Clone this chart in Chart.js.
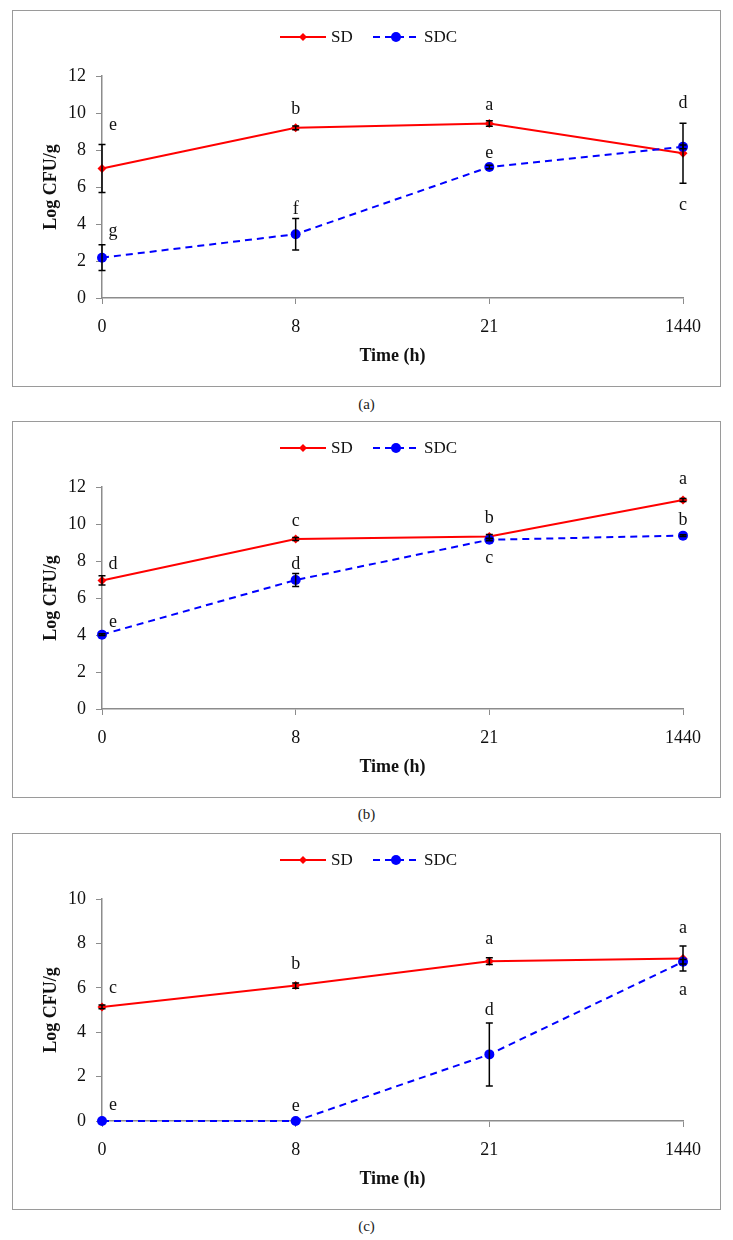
<!DOCTYPE html>
<html>
<head>
<meta charset="utf-8">
<script src="https://cdn.jsdelivr.net/npm/chart.js@4"></script>
<style>
  body { margin: 0; background: #fff; width: 733px; height: 1240px; position: relative; font-family: "Liberation Serif", serif; }
  .box { position: absolute; left: 12px; width: 707px; height: 375px; border: 1px solid #9a9a9a; }
  .box canvas { position: absolute; left: 0; top: 0; }
  .cap { position: absolute; left: 0; width: 733px; text-align: center; font-size: 15px; color: #222; line-height: 16px; }
</style>
</head>
<body>
<div class="box" style="top:10px"><canvas id="chartA" width="707" height="375"></canvas></div>
<div class="cap" style="top:396px">(a)</div>
<div class="box" style="top:421px"><canvas id="chartB" width="707" height="375"></canvas></div>
<div class="cap" style="top:806px">(b)</div>
<div class="box" style="top:833px"><canvas id="chartC" width="707" height="375"></canvas></div>
<div class="cap" style="top:1218px">(c)</div>

<script>
// Tempo de amostragem (categorias)
const timeLabels = ['0', '8', '21', '1440'];

// Painel (a)
const aSD = [7.0, 9.2, 9.43, 7.82];
const aSDErr = [1.3, 0.1, 0.15, 1.62];
const aSDC = [2.18, 3.45, 7.08, 8.17];
const aSDCErr = [0.7, 0.85, 0.1, 0.1];
const aSDLetters = ['e', 'b', 'a', 'd'];
const aSDLetterY = [9.35, 10.2, 10.4, 10.5];
const aSDCLetters = ['g', 'f', 'e', 'c'];
const aSDCLetterY = [3.6, 4.8, 7.85, 5.0];

// Painel (b)
const bSD = [6.95, 9.19, 9.33, 11.3];
const bSDErr = [0.25, 0.08, 0.1, 0.08];
const bSDC = [4.02, 6.97, 9.15, 9.37];
const bSDCErr = [0.05, 0.35, 0.05, 0.05];
const bSDLetters = ['d', 'c', 'b', 'a'];
const bSDLetterY = [7.8, 10.15, 10.3, 12.4];
const bSDCLetters = ['e', 'd', 'c', 'b'];
const bSDCLetterY = [4.7, 7.8, 8.15, 10.2];

// Painel (c)
const cSD = [5.14, 6.1, 7.2, 7.32];
const cSDErr = [0.08, 0.12, 0.15, 0.56];
const cSDC = [0, 0, 3.0, 7.17];
const cSDCErr = [0, 0, 1.42, 0.1];
const cSDLetters = ['c', 'b', 'a', 'a'];
const cSDLetterY = [5.97, 7.06, 8.17, 8.7];
const cSDCLetters = ['e', 'e', 'd', 'a'];
const cSDCLetterY = [0.72, 0.67, 5.0, 5.9];

const SERIF = '"Liberation Serif", "Times New Roman", serif';
const RED = '#ff0000';
const BLUE = '#0000ff';
const AXIS = '#8c8c8c';

// Barras de erro desenhadas pelas escalas do gráfico
const errorBarsPlugin = {
  id: 'errorBars',
  afterDatasetsDraw(chart) {
    const ctx = chart.ctx;
    const x = chart.scales.x, y = chart.scales.y;
    ctx.save();
    ctx.strokeStyle = '#000';
    ctx.lineWidth = 1.5;
    chart.data.datasets.forEach(ds => {
      ds.data.forEach((v, i) => {
        const e = ds.errors[i];
        if (!e) return;
        const px = x.getPixelForValue(i);
        const top = y.getPixelForValue(v + e);
        const bot = y.getPixelForValue(v - e);
        ctx.beginPath();
        ctx.moveTo(px, top); ctx.lineTo(px, bot);
        ctx.moveTo(px - 3.5, top); ctx.lineTo(px + 3.5, top);
        ctx.moveTo(px - 3.5, bot); ctx.lineTo(px + 3.5, bot);
        ctx.stroke();
      });
    });
    ctx.restore();
  }
};

// Letras de significância
const lettersPlugin = {
  id: 'letters',
  afterDatasetsDraw(chart) {
    const ctx = chart.ctx;
    const x = chart.scales.x, y = chart.scales.y;
    ctx.save();
    ctx.fillStyle = '#111';
    ctx.font = '18px ' + SERIF;
    ctx.textAlign = 'center';
    ctx.textBaseline = 'middle';
    chart.data.datasets.forEach(ds => {
      ds.letters.forEach((t, i) => {
        const px = x.getPixelForValue(i) + (i === 0 ? 11 : 0);
        ctx.fillText(t, px, y.getPixelForValue(ds.letterY[i]));
      });
    });
    ctx.restore();
  }
};

// Legenda no estilo Excel (linha + marcador)
const legendPlugin = {
  id: 'lineLegend',
  afterDraw(chart) {
    const ctx = chart.ctx;
    const cy = 26;
    const items = [
      { ds: chart.data.datasets[0], x0: 267, x1: 313, mx: 290, tx: 318 },
      { ds: chart.data.datasets[1], x0: 360, x1: 403, mx: 383, tx: 411 }
    ];
    ctx.save();
    items.forEach(it => {
      ctx.strokeStyle = it.ds.borderColor;
      ctx.lineWidth = 2;
      ctx.setLineDash(it.ds.borderDash || []);
      ctx.beginPath();
      ctx.moveTo(it.x0, cy); ctx.lineTo(it.x1, cy);
      ctx.stroke();
      ctx.setLineDash([]);
      ctx.fillStyle = it.ds.borderColor;
      ctx.beginPath();
      if (it.ds.pointStyle === 'rectRot') {
        const r = 4;
        ctx.moveTo(it.mx, cy - r); ctx.lineTo(it.mx + r, cy);
        ctx.lineTo(it.mx, cy + r); ctx.lineTo(it.mx - r, cy);
      } else {
        ctx.arc(it.mx, cy, 5, 0, Math.PI * 2);
      }
      ctx.fill();
      ctx.fillStyle = '#111';
      ctx.font = '17px ' + SERIF;
      ctx.textAlign = 'left';
      ctx.textBaseline = 'middle';
      ctx.fillText(it.ds.label, it.tx, cy + 1);
    });
    ctx.restore();
  }
};

function makePanel(id, yMax, sd, sdErr, sdc, sdcErr, sdLetters, sdLetterY, sdcLetters, sdcLetterY) {
  const ctx = document.getElementById(id);
  return new Chart(ctx, {
    type: 'line',
    data: {
      labels: timeLabels,
      datasets: [
        {
          label: 'SD',
          data: sd,
          errors: sdErr,
          letters: sdLetters,
          letterY: sdLetterY,
          borderColor: RED,
          backgroundColor: RED,
          borderWidth: 2,
          pointStyle: 'rectRot',
          pointRadius: 4.5,
          pointBorderWidth: 0,
          tension: 0,
          clip: false,
          order: 2
        },
        {
          label: 'SDC',
          data: sdc,
          errors: sdcErr,
          letters: sdcLetters,
          letterY: sdcLetterY,
          borderColor: BLUE,
          backgroundColor: BLUE,
          borderWidth: 2,
          borderDash: [7, 5],
          pointStyle: 'circle',
          pointRadius: 5,
          pointBorderWidth: 0,
          tension: 0,
          clip: false,
          order: 1
        }
      ]
    },
    options: {
      responsive: false,
      animation: false,
      layout: { padding: { left: 0, right: 37, top: 65, bottom: 0 } },
      plugins: {
        legend: { display: false },
        tooltip: { enabled: false }
      },
      scales: {
        x: {
          offset: false,
          grid: { drawOnChartArea: false, drawTicks: true, tickLength: 6, color: AXIS },
          border: { display: true, color: AXIS, width: 1.5 },
          ticks: { color: '#111', font: { family: SERIF, size: 18 }, padding: 12, maxRotation: 0 },
          title: { display: true, text: 'Time (h)', color: '#111', font: { family: SERIF, size: 18, weight: 'bold' }, padding: { top: 0, bottom: 19 } },
          afterFit: s => { s.height = 88; }
        },
        y: {
          min: 0,
          max: yMax,
          grid: { drawOnChartArea: false, drawTicks: true, tickLength: 6, color: AXIS },
          border: { display: true, color: AXIS, width: 1.5 },
          ticks: { stepSize: 2, color: '#111', font: { family: SERIF, size: 18 }, padding: 10 },
          title: { display: true, text: 'Log CFU/g', color: '#111', font: { family: SERIF, size: 18, weight: 'bold' }, padding: { top: 28, bottom: 0 } },
          afterFit: s => { s.width = 89; }
        }
      }
    },
    plugins: [errorBarsPlugin, lettersPlugin, legendPlugin]
  });
}

makePanel('chartA', 12, aSD, aSDErr, aSDC, aSDCErr, aSDLetters, aSDLetterY, aSDCLetters, aSDCLetterY);
makePanel('chartB', 12, bSD, bSDErr, bSDC, bSDCErr, bSDLetters, bSDLetterY, bSDCLetters, bSDCLetterY);
makePanel('chartC', 10, cSD, cSDErr, cSDC, cSDCErr, cSDLetters, cSDLetterY, cSDCLetters, cSDCLetterY);
</script>
</body>
</html>
